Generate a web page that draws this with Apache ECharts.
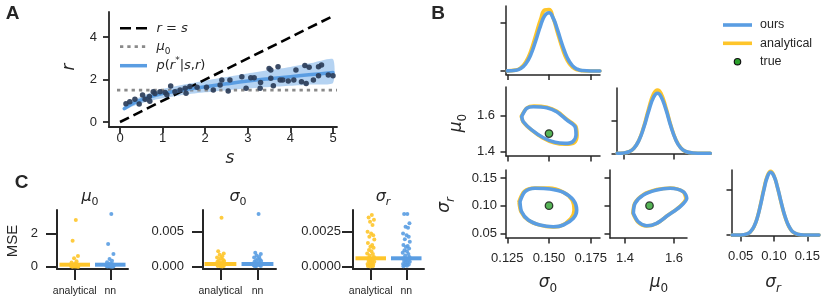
<!DOCTYPE html>
<html><head><meta charset="utf-8">
<script src="https://cdn.jsdelivr.net/npm/echarts@6/dist/echarts.min.js"></script>
<style>html,body{margin:0;padding:0;background:#fff}#c{width:831px;height:302px}</style>
</head><body><div id="c"></div>
<script>
// ---------------- DATA ----------------
// Panel A
const aScatterS = [0.14,0.23,0.35,0.45,0.53,0.59,0.69,0.70,0.78,0.82,0.94,1.06,1.10,1.19,1.29,1.41,1.53,1.55,1.64,1.81,2.03,2.19,2.35,2.39,2.54,2.58,2.86,2.96,3.07,3.15,3.29,3.30,3.50,3.54,3.54,3.60,3.71,3.76,3.82,3.95,4.08,4.13,4.26,4.34,4.37,4.44,4.54,4.66,4.66,4.73,4.89,5.00];
const aScatterR = [0.86,0.96,1.07,0.85,1.27,1.07,1.20,0.98,1.43,1.35,1.43,1.39,1.28,1.70,1.43,1.51,1.59,1.36,1.67,1.64,1.64,1.51,1.75,1.98,1.46,1.98,2.14,1.59,2.09,2.09,1.59,1.86,2.53,2.45,2.06,1.71,2.61,1.98,1.98,1.93,1.98,2.45,1.90,2.66,1.82,2.58,1.98,2.18,2.61,2.69,2.22,2.18];
const aCurveS    = [0.1,0.25,0.5,0.75,1,1.5,2,2.5,3,3.5,4,4.5,5];
const aCurveMean = [0.63,0.82,1.04,1.21,1.34,1.52,1.66,1.80,1.93,2.04,2.14,2.24,2.33];
const aCurveLow  = [0.55,0.70,0.88,1.02,1.12,1.28,1.40,1.50,1.58,1.65,1.71,1.77,1.84];
const aCurveHigh = [0.72,0.95,1.20,1.40,1.56,1.77,1.95,2.12,2.29,2.45,2.60,2.78,2.96];
const aIdentity  = [[0,0],[5,5]];
const aXTicks = [0,1,2,3,4,5], aXLabels = ['0','1','2','3','4','5'];
const aYTicks = [0,2,4], aYLabels = ['0','2','4'];

// Panel B
const trueSig0 = 0.15, trueMu0 = 1.5, trueSigR = 0.10;
const sig0DensX   = [0.125,0.130,0.133,0.136,0.139,0.142,0.145,0.1475,0.150,0.1525,0.155,0.158,0.161,0.164,0.167,0.170,0.175,0.1805];
const sig0DensOurs= [0.1,0.7,2.5,7.3,16.7,31.4,47.6,57.7,60.6,55.1,43.4,27.1,13.6,5.6,1.9,0.5,0,0];
const sig0DensAna = [0.1,0.9,3.2,9.2,20.5,37.0,54.0,63.5,64.0,55.0,40.5,23.5,10.8,4.0,1.2,0.3,0,0];
const mu0DensX    = [1.372,1.40,1.42,1.44,1.46,1.48,1.50,1.52,1.536,1.55,1.57,1.59,1.61,1.63,1.65,1.68,1.72,1.75];
const mu0DensOurs = [0,0.06,0.24,0.77,1.95,3.97,6.53,8.68,9.29,8.80,6.80,4.20,2.10,0.85,0.28,0.05,0,0];
const mu0DensAna  = [0,0.06,0.24,0.78,2.00,4.10,6.90,9.20,9.80,9.30,7.10,4.35,2.15,0.86,0.28,0.05,0,0];
const sigRDensX   = [0.037,0.05,0.06,0.065,0.07,0.075,0.08,0.085,0.09,0.095,0.10,0.105,0.11,0.115,0.12,0.125,0.13,0.14,0.15,0.1676];
const sigRDensOurs= [0,0,0.55,1.6,3.8,7.7,13.6,20.3,25.8,27.9,26.1,21.5,15.5,9.8,5.4,2.6,1.1,0.1,0,0];
const sigRDensAna = [0,0,0.5,1.5,3.7,7.8,13.9,20.8,26.3,28.3,26.3,21.4,15.3,9.6,5.3,2.5,1.0,0.1,0,0];
const sig0Mu0Ours = [[0.1336,1.593],[0.1366,1.639],[0.1406,1.648],[0.1486,1.642],[0.1546,1.620],[0.1606,1.575],[0.1656,1.538],[0.1662,1.492],[0.1642,1.455],[0.1596,1.446],[0.1536,1.452],[0.1466,1.477],[0.1396,1.520],[0.1346,1.565],[0.1336,1.593]];
const sig0Mu0Ana  = [[0.1334,1.596],[0.1368,1.642],[0.1410,1.652],[0.1488,1.645],[0.1548,1.622],[0.1608,1.578],[0.1660,1.540],[0.1668,1.490],[0.1652,1.450],[0.1600,1.441],[0.1530,1.449],[0.1462,1.476],[0.1394,1.520],[0.1344,1.566],[0.1334,1.596]];
const sig0SigROurs= [[0.1326,0.1072],[0.1356,0.1254],[0.1416,0.1315],[0.1506,0.1303],[0.1586,0.1243],[0.1646,0.1103],[0.1666,0.0922],[0.1646,0.0772],[0.1586,0.0650],[0.1526,0.0619],[0.1446,0.0650],[0.1376,0.0741],[0.1336,0.0891],[0.1326,0.1072]];
const sig0SigRAna = [[0.1320,0.1075],[0.1352,0.1262],[0.1414,0.1322],[0.1500,0.1320],[0.1582,0.1250],[0.1636,0.1110],[0.1650,0.0920],[0.1630,0.0765],[0.1566,0.0628],[0.1520,0.0615],[0.1444,0.0648],[0.1374,0.0740],[0.1332,0.0893],[0.1320,0.1075]];
const mu0SigROurs = [[1.434,0.0862],[1.441,0.1043],[1.475,0.1194],[1.529,0.1284],[1.584,0.1315],[1.638,0.1254],[1.652,0.1134],[1.625,0.0982],[1.577,0.0831],[1.529,0.0681],[1.489,0.0638],[1.454,0.0710],[1.434,0.0862]];
const mu0SigRAna  = [[1.432,0.0865],[1.440,0.1048],[1.474,0.1200],[1.530,0.1292],[1.586,0.1322],[1.636,0.1256],[1.648,0.1130],[1.622,0.0978],[1.575,0.0826],[1.528,0.0676],[1.487,0.0632],[1.452,0.0706],[1.432,0.0865]];
const bSig0Ticks = [0.125,0.15,0.175], bSig0Labels = ['0.125','0.150','0.175'];
const bMu0Ticks  = [1.4,1.6],          bMu0Labels  = ['1.4','1.6'];
const bSigRTicks = [0.05,0.10,0.15],   bSigRLabels = ['0.05','0.10','0.15'];
const bDensTicks = {sig0:[0,50], mu0:[0,5], sigR:[0,20]};
const bLegend = ['ours','analytical','true'];

// Panel C
const cCats = ['analytical','nn'];
const cJitter = [0.03,-0.06,0.09,-0.02,0.05,-0.09,0.01,0.07,-0.04,0.10,-0.08,0.04,-0.01,0.08,-0.05,0.02,-0.10,0.06,-0.03,0.09,-0.07,0.00,0.05,-0.06,0.10,-0.02,0.03,-0.09,0.07,-0.04,0.02,-0.08,0.06,-0.01,0.04];
const cMu0Ana  = [2.80,1.56,0.64,0.50,0.32,0.25,0.18,0.14,0.12,0.10,0.08,0.07,0.06,0.05,0.04,0.03,0.03,0.02,0.02,0.01,0.01,0.01,0.005,0.005,0.002];
const cMu0NN   = [3.16,1.36,0.76,0.46,0.36,0.26,0.20,0.15,0.12,0.10,0.08,0.07,0.06,0.05,0.04,0.03,0.03,0.02,0.02,0.01,0.01,0.005,0.003];
const cSig0Ana = [0.0070,0.0022,0.0019,0.0017,0.0015,0.0013,0.0012,0.0010,0.0009,0.0008,0.0007,0.0006,0.0005,0.0005,0.0004,0.0003,0.0003,0.0002,0.0002,0.0001,0.0001,0.00005,0.00003];
const cSig0NN  = [0.00753,0.0020,0.0018,0.0016,0.0014,0.0013,0.0011,0.0010,0.0009,0.0008,0.0007,0.0006,0.0005,0.0004,0.0004,0.0003,0.0002,0.0002,0.0001,0.0001,0.00005];
const cSigRAna = [0.00369,0.00352,0.00335,0.00321,0.00298,0.0025,0.00238,0.00225,0.00214,0.00195,0.0017,0.00155,0.00143,0.00135,0.00119,0.0011,0.00095,0.0009,0.0008,0.0007,0.0006,0.0005,0.00045,0.0004,0.00035,0.0003,0.00025,0.0002,0.00015,0.0001,0.00008,0.00005,0.00003,0.00001];
const cSigRNN  = [0.00376,0.00376,0.0031,0.00286,0.00278,0.00238,0.00225,0.00214,0.00196,0.00178,0.00155,0.00148,0.0014,0.0013,0.00118,0.0011,0.001,0.0009,0.0008,0.0007,0.0006,0.0005,0.00045,0.0004,0.00035,0.0003,0.00025,0.0002,0.00015,0.0001,0.00006,0.00003];
const cMeanMu0 = [0.12,0.12], cMeanSig0 = [0.0004,0.0004], cMeanSigR = [0.0006,0.0006];
const cMu0Ticks = [0,2],         cMu0Labels = ['0','2'];
const cSig0Ticks = [0,0.005],    cSig0Labels = ['0.000','0.005'];
const cSigRTicks = [0,0.0025],   cSigRLabels = ['0.0000','0.0025'];

// ---------------- STYLE / LAYOUT ----------------
const INK = '#262626', BLUE = '#5a9de2', YELLOW = '#fec52a', NAVY = '#2b3d59', GREEN = '#2ca02c';
const SANS = '"Liberation Sans", Arial, sans-serif', MATH = '"DejaVu Sans"';
const A_HLINE_X = [-0.07, 5.094];
const BAR_HALF = 0.43;

const GRIDS = [
  {left:109, top:12,  width:228, height:115}, // 0 A
  {left:506, top:6,   width:94,  height:68.5},// 1 B sig0 density
  {left:506, top:87,  width:94,  height:69},  // 2 B sig0-mu0
  {left:617, top:88,  width:94,  height:66},  // 3 B mu0 density
  {left:506, top:170, width:94,  height:68},  // 4 B sig0-sigR
  {left:610, top:170, width:77,  height:68},  // 5 B mu0-sigR
  {left:732, top:170, width:87,  height:66},  // 6 B sigR density
  {left:57,  top:210, width:71,  height:59},  // 7 C mu0
  {left:203, top:210, width:73,  height:59},  // 8 C sig0
  {left:353, top:210, width:71,  height:59},  // 9 C sigR
];

function fmt(ticks, labels){ return v => { for (let k=0;k<ticks.length;k++) if (Math.abs(ticks[k]-v) < 1e-9) return labels ? labels[k] : ''; return ''; }; }
function axis(gi, min, max, ticks, labels, st){
  return {
    type:'value', gridIndex:gi, min, max,
    axisLine:{show:true, onZero:false, lineStyle:{color:INK, width:st.lw}},
    axisTick:{show:true, inside:false, length:st.tl, customValues:ticks, lineStyle:{color:INK, width:st.lw}},
    axisLabel:{show:!!labels, customValues:ticks, margin:st.m, color:INK, fontFamily:SANS, fontSize:st.fs, formatter:fmt(ticks, labels)},
    splitLine:{show:false}
  };
}
const SA  = {lw:1.8, tl:6, fs:13};
const SB  = {lw:1.5, tl:5.5, fs:13};
const SC  = {lw:2,   tl:11, fs:13};

const xAxis = [
  axis(0, -0.258, 5.094, aXTicks, aXLabels, {...SA, m:5}),
  axis(1, 0.12422, 0.18057, bSig0Ticks, null, SB),
  axis(2, 0.12422, 0.18057, bSig0Ticks, null, SB),
  axis(3, 1.3716, 1.753, bMu0Ticks, null, SB),
  axis(4, 0.12422, 0.18057, bSig0Ticks, bSig0Labels, {...SB, m:14}),
  axis(5, 1.3388, 1.653, bMu0Ticks, bMu0Labels, {...SB, m:14}),
  axis(6, 0.03694, 0.1676, bSigRTicks, bSigRLabels, {...SB, m:14}),
  axis(7, -0.5, 1.5, [0,1], cCats, {...SC, m:17, fs:10.5}),
  axis(8, -0.47, 1.5, [0,1], cCats, {...SC, m:17, fs:10.5}),
  axis(9, -0.5, 1.5, [0,1], cCats, {...SC, m:17, fs:10.5}),
];
const yAxis = [
  axis(0, -0.236, 5.19, aYTicks, aYLabels, {...SA, m:12}),
  axis(1, -3.65, 67.7, bDensTicks.sig0, null, SB),
  axis(2, 1.3763, 1.7565, bMu0Ticks, bMu0Labels, {...SB, m:11}),
  axis(3, -0.108, 10.11, bDensTicks.mu0, null, SB),
  axis(4, 0.0415, 0.1647, bSigRTicks, bSigRLabels, {...SB, m:9}),
  axis(5, 0.0415, 0.1647, bSigRTicks, null, SB),
  axis(6, -0.44, 28.9, bDensTicks.sigR, null, SB),
  axis(7, -0.138, 3.395, cMu0Ticks, cMu0Labels, {...SC, m:19}),
  axis(8, -0.00033, 0.0081, cSig0Ticks, cSig0Labels, {...SC, m:19}),
  axis(9, -0.000164, 0.00405, cSigRTicks, cSigRLabels, {...SC, m:12}),
];

const zip = (xs, ys) => xs.map((x,i)=>[x, ys[i]]);
function lineS(gi, data, color, width, extra){
  return Object.assign({type:'line', xAxisIndex:gi, yAxisIndex:gi, data, showSymbol:false, symbol:'none',
    lineStyle:{color, width, cap:'round', join:'round'}, itemStyle:{color}, silent:true}, extra||{});
}
function dot(gi, x, y){
  return {type:'scatter', xAxisIndex:gi, yAxisIndex:gi, data:[[x,y]], symbolSize:7.5,
    itemStyle:{color:GREEN, borderColor:'#111', borderWidth:1.3}, z:10, silent:true};
}
function strip(gi, idx, vals, color){
  return {type:'scatter', xAxisIndex:gi, yAxisIndex:gi, data: vals.map((v,i)=>[idx + cJitter[i % cJitter.length], v]),
    symbolSize:4, itemStyle:{color, opacity:0.9}, z:3, silent:true};
}
function meanBars(gi, means){
  return {type:'custom', xAxisIndex:gi, yAxisIndex:gi, data: means.map((m,i)=>[i,m]), z:6, silent:true,
    renderItem:(p, api) => { const i = api.value(0), m = api.value(1);
      const a = api.coord([i-BAR_HALF, m]), b = api.coord([i+BAR_HALF, m]);
      return {type:'line', shape:{x1:a[0], y1:a[1], x2:b[0], y2:b[1]}, style:{stroke: i===0?YELLOW:BLUE, lineWidth:4}}; }};
}

const series = [
  // A band
  {type:'custom', xAxisIndex:0, yAxisIndex:0, z:1, silent:true,
   data: aCurveS.map((s,i)=>[s, aCurveLow[i], aCurveHigh[i]]),
   renderItem:(p, api) => {
     if (p.dataIndex !== 0) return null;
     const pts = [];
     for (let i=0;i<aCurveS.length;i++) pts.push(api.coord([aCurveS[i], aCurveHigh[i]]));
     for (let i=aCurveS.length-1;i>=0;i--) pts.push(api.coord([aCurveS[i], aCurveLow[i]]));
     return {type:'polygon', shape:{points:pts, smooth:0.2}, style:{fill:'rgba(90,157,226,0.45)'}};
   }},
  lineS(0, aIdentity, '#000', 2.6, {z:2, lineStyle:{color:'#000', width:2.6, type:[10,5], cap:'butt'}}),
  lineS(0, [[A_HLINE_X[0], trueMu0],[A_HLINE_X[1], trueMu0]], '#8a8a8a', 2.8, {z:2, lineStyle:{color:'#8a8a8a', width:2.8, type:[3.3,4], cap:'butt'}}),
  lineS(0, zip(aCurveS, aCurveMean), BLUE, 3.5, {smooth:0.4, z:3}),
  {type:'scatter', xAxisIndex:0, yAxisIndex:0, data: zip(aScatterS, aScatterR), symbolSize:5.5,
   itemStyle:{color:NAVY, opacity:0.92}, z:4, silent:true},
  // B diag densities
  lineS(1, zip(sig0DensX, sig0DensAna), YELLOW, 3.6, {smooth:0.5, z:2}),
  lineS(1, zip(sig0DensX, sig0DensOurs), BLUE, 3.6, {smooth:0.5, z:3}),
  lineS(3, zip(mu0DensX, mu0DensAna), YELLOW, 3.6, {smooth:0.5, z:2}),
  lineS(3, zip(mu0DensX, mu0DensOurs), BLUE, 3.6, {smooth:0.5, z:3}),
  lineS(6, zip(sigRDensX, sigRDensAna), YELLOW, 3.6, {smooth:0.5, z:2}),
  lineS(6, zip(sigRDensX, sigRDensOurs), BLUE, 3.6, {smooth:0.5, z:3}),
  // B contours
  lineS(2, sig0Mu0Ana, YELLOW, 3.6, {smooth:0.3, z:2}),
  lineS(2, sig0Mu0Ours, BLUE, 3.6, {smooth:0.3, z:3}),
  dot(2, trueSig0, trueMu0),
  lineS(4, sig0SigRAna, YELLOW, 3.6, {smooth:0.3, z:2}),
  lineS(4, sig0SigROurs, BLUE, 3.6, {smooth:0.3, z:3}),
  dot(4, trueSig0, trueSigR),
  lineS(5, mu0SigRAna, YELLOW, 3.6, {smooth:0.3, z:2}),
  lineS(5, mu0SigROurs, BLUE, 3.6, {smooth:0.3, z:3}),
  dot(5, trueMu0, trueSigR),
  // C
  strip(7, 0, cMu0Ana, YELLOW), strip(7, 1, cMu0NN, BLUE), meanBars(7, cMeanMu0),
  strip(8, 0, cSig0Ana, YELLOW), strip(8, 1, cSig0NN, BLUE), meanBars(8, cMeanSig0),
  strip(9, 0, cSigRAna, YELLOW), strip(9, 1, cSigRNN, BLUE), meanBars(9, cMeanSigR),
];

// ---------------- TEXT ----------------
function rich(S){
  const sub = Math.round(S*0.7);
  return {
    it:{fontFamily:MATH, fontStyle:'italic', fontSize:S, lineHeight:S+6, fill:INK},
    n:{fontFamily:MATH, fontSize:S, lineHeight:S+6, fill:INK},
    sub:{fontFamily:MATH, fontSize:sub, lineHeight:sub+1, verticalAlign:'bottom', fill:INK},
    subi:{fontFamily:MATH, fontStyle:'italic', fontSize:sub, lineHeight:sub+1, verticalAlign:'bottom', fill:INK},
    sup:{fontFamily:MATH, fontSize:sub, lineHeight:sub+4, verticalAlign:'top', fill:INK}
  };
}
function T(x, y, text, o){
  o = o || {};
  const style = {text, fill:INK, align:o.align||'center', verticalAlign:'middle', textAlign:o.align||'center', textVerticalAlign:'middle'};
  if (o.S) style.rich = rich(o.S);
  if (o.font) style.font = o.font;
  return {type:'text', x, y, rotation:o.rot||0, silent:true, z:100, style};
}
const MU0 = '{it|μ}{sub|0}', SIG0 = '{it|σ}{sub|0}', SIGR = '{it|σ}{subi|r}';
const R90 = Math.PI/2;
const gfx = [
  T(12.5, 14, 'A', {font:'bold 19px "Liberation Sans"'}),
  T(438, 14, 'B', {font:'bold 19px "Liberation Sans"'}),
  T(21.5, 183, 'C', {font:'bold 19px "Liberation Sans"'}),
  // A labels
  T(70, 67, '{it|r}', {S:17, rot:R90}),
  T(230, 159, '{it|s}', {S:17}),
  // A legend
  {type:'line', silent:true, z:100, shape:{x1:120,y1:28.3,x2:147,y2:28.3}, style:{stroke:'#000', lineWidth:2.6, lineDash:[11,5]}},
  {type:'line', silent:true, z:100, shape:{x1:120,y1:46.7,x2:147,y2:46.7}, style:{stroke:'#8a8a8a', lineWidth:2.8, lineDash:[3.3,4]}},
  {type:'line', silent:true, z:100, shape:{x1:120,y1:65.7,x2:147,y2:65.7}, style:{stroke:BLUE, lineWidth:3.5}},
  T(156.5, 28.3, '{it|r}{n| = }{it|s}', {S:13, align:'left'}),
  T(156.5, 46.7, MU0, {S:13, align:'left'}),
  T(156.5, 65.7, '{it|p}{n|(}{it|r}{sup|*}{n||}{it|s}{n|,}{it|r}{n|)}', {S:13, align:'left'}),
  // B labels
  T(457, 123, MU0, {S:17, rot:R90}),
  T(445, 205, SIGR, {S:17, rot:R90}),
  T(548, 283, SIG0, {S:17}),
  T(659, 283, MU0, {S:17}),
  T(773, 283, SIGR, {S:17}),
  // B legend
  {type:'line', silent:true, z:100, shape:{x1:723,y1:25,x2:752,y2:25}, style:{stroke:BLUE, lineWidth:3.6}},
  {type:'line', silent:true, z:100, shape:{x1:723,y1:43.3,x2:752,y2:43.3}, style:{stroke:YELLOW, lineWidth:3.6}},
  {type:'circle', silent:true, z:100, shape:{cx:737.5, cy:61.7, r:3.2}, style:{fill:GREEN, stroke:'#111', lineWidth:1.2}},
  T(760, 25, bLegend[0], {align:'left', font:'12.5px "Liberation Sans"'}),
  T(760, 43.3, bLegend[1], {align:'left', font:'12.5px "Liberation Sans"'}),
  T(760, 61.7, bLegend[2], {align:'left', font:'12.5px "Liberation Sans"'}),
  // C labels
  T(90, 197, MU0, {S:16}),
  T(238, 197, SIG0, {S:16}),
  T(383, 197, SIGR, {S:16}),
  T(13, 241, 'MSE', {rot:R90, font:'15px "Liberation Sans"'}),
];

const chart = echarts.init(document.getElementById('c'), null, {renderer:'canvas'});
chart.setOption({
  animation:false, backgroundColor:'#fff',
  grid: GRIDS,
  xAxis, yAxis, series,
  graphic:{elements:gfx}
});
</script></body></html>
